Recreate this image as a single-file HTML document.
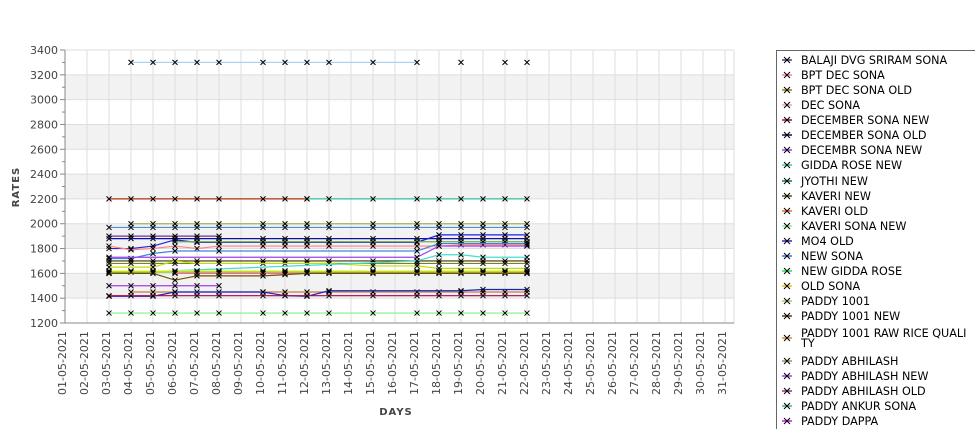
<!DOCTYPE html>
<html><head><meta charset="utf-8"><style>
body{margin:0;background:#fff;width:975px;height:429px;overflow:hidden;font-family:"DejaVu Sans","Liberation Sans",sans-serif}
</style></head><body>
<svg id="s" width="975" height="429" xmlns="http://www.w3.org/2000/svg" font-family="DejaVu Sans, Liberation Sans, sans-serif"></svg>
<script>
var s=document.getElementById('s'),h='';
var L=65,R=734,T=50,B=323;
function X(d){return L+(d-1)*22;}
function Y(v){return B-(v-1200)*(B-T)/2200;}
for(var v=3000;v>=1400;v-=400){h+='<rect x="'+L+'" y="'+Y(v+200)+'" width="'+(R-L)+'" height="'+(Y(v)-Y(v+200))+'" fill="#f2f2f2"/>';}
for(var v=1200;v<=3400;v+=200){h+='<line x1="'+L+'" x2="'+R+'" y1="'+Y(v)+'" y2="'+Y(v)+'" stroke="#ddd"/>';
h+='<text x="58" y="'+(Y(v)+4)+'" font-size="11" fill="#444" text-anchor="end">'+v+'</text>';
h+='<line x1="'+(L-5)+'" x2="'+L+'" y1="'+Y(v)+'" y2="'+Y(v)+'" stroke="#888"/>';
if(v<3400)h+='<line x1="'+(L-3)+'" x2="'+L+'" y1="'+Y(v+100)+'" y2="'+Y(v+100)+'" stroke="#888"/>';}
for(var d=1;d<=31;d++){var x=X(d);h+='<line x1="'+x+'" x2="'+x+'" y1="'+T+'" y2="'+B+'" stroke="#ddd"/>';
var dd=(d<10?'0':'')+d+'-05-2021';
h+='<text transform="translate('+(x+1)+',395) rotate(-90)" font-size="11" fill="#444">'+dd+'</text>';}
h+='<line x1="'+R+'" x2="'+R+'" y1="'+T+'" y2="'+B+'" stroke="#ddd"/>';
h+='<line x1="'+L+'" x2="'+L+'" y1="'+T+'" y2="'+B+'" stroke="#888"/><line x1="'+L+'" x2="'+R+'" y1="'+B+'" y2="'+B+'" stroke="#888"/>';
h+='<text x="396" y="415" font-size="10" font-weight="bold" fill="#444" text-anchor="middle" letter-spacing="1">DAYS</text>';
h+='<text transform="translate(19,187) rotate(-90)" font-size="10" font-weight="bold" fill="#444" text-anchor="middle" letter-spacing="1">RATES</text>';
var D=[3,4,5,6,7,8,10,11,12,13,15,17,18,19,20,21,22];
function ser(c,pts){var p=pts.map(function(q){return X(q[0])+','+Y(q[1])}).join(' ');
h+='<polyline points="'+p+'" fill="none" stroke="'+c+'" stroke-width="1.2"/>';
pts.forEach(function(q){var x=X(q[0]),y=Y(q[1]);h+='<path d="M'+(x-2.5)+' '+(y-2.5)+'L'+(x+2.5)+' '+(y+2.5)+'M'+(x+2.5)+' '+(y-2.5)+'L'+(x-2.5)+' '+(y+2.5)+'" stroke="#000" stroke-width="1"/>';});}
function flat(c,v,a,b){ser(c,D.filter(function(d){return d>=a&&d<=b}).map(function(d){return [d,v]}));}
ser('#aad4f5',[[4,3300],[5,3300],[6,3300],[7,3300],[8,3300],[10,3300],[11,3300],[12,3300],[13,3300],[15,3300],[17,3300]]);
ser('#fff',[[19,3300]]);ser('#fff',[[21,3300],[22,3300]]);
flat('#b03010',2200,3,12);flat('#30c0a0',2200,12,22);
flat('#a0b060',2000,4,22);flat('#5090d0',1970,3,22);
flat('#7030a0',1900,3,8);flat('#1010a0',1880,3,22);
ser('#2020e0',[[3,1800],[4,1800],[5,1820],[6,1870],[7,1850],[8,1850],[10,1850],[11,1850],[12,1850],[13,1850],[15,1850],[17,1850],[18,1910],[19,1910],[20,1910],[21,1910],[22,1910]]);
flat('#70b040',1855,6,22);
ser('#ff8080',[[3,1820],[4,1790],[5,1800],[6,1820],[7,1800],[8,1820],[10,1820],[11,1820],[12,1820],[13,1820],[15,1820],[17,1820],[18,1820],[19,1830],[20,1830],[21,1830],[22,1830]]);
ser('#4080e0',[[3,1720],[4,1720],[5,1760],[6,1780],[8,1780],[17,1780],[18,1840],[22,1840]]);
ser('#a040f0',[[3,1730],[17,1730],[18,1820],[22,1820]]);
flat('#403000',1700,3,22);flat('#808020',1680,3,22);
ser('#c0e000',[[3,1650],[5,1650],[6,1700],[7,1680],[8,1680],[13,1680],[15,1660],[17,1660],[18,1640],[22,1640]]);
ser('#40e0d0',[[3,1600],[17,1700],[18,1750],[19,1750],[20,1730],[22,1730]]);
flat('#f0f040',1620,3,22);flat('#80d020',1610,3,22);flat('#ff60a0',1600,6,22);
ser('#705000',[[3,1600],[5,1600],[6,1545],[7,1580],[8,1580],[10,1580],[11,1590],[12,1600],[22,1600]]);
flat('#a040e0',1500,3,8);flat('#c08040',1450,4,22);
ser('#2020c0',[[3,1415],[5,1415],[6,1450],[10,1450],[11,1420],[12,1415],[13,1460],[19,1460],[20,1470],[22,1470]]);
flat('#b00050',1420,3,22);flat('#80f080',1280,3,22);
h+='<rect x="776.5" y="50.5" width="210" height="390" fill="#fff" stroke="#666"/>';
var items=[['BALAJI DVG SRIRAM SONA','#404090'],['BPT DEC SONA','#ff70c0'],['BPT DEC SONA OLD','#a08000'],['DEC SONA','#ffa0a0'],['DECEMBER SONA NEW','#b00050'],['DECEMBER SONA OLD','#101060'],['DECEMBR SONA NEW','#a040f0'],['GIDDA ROSE NEW','#30d0b0'],['JYOTHI NEW','#108040'],['KAVERI NEW','#406020'],['KAVERI OLD','#ff6030'],['KAVERI SONA NEW','#80f0a0'],['MO4 OLD','#4020c0'],['NEW  SONA','#3070f0'],['NEW GIDDA ROSE','#20e070'],['OLD SONA','#f0c000'],['PADDY 1001','#a0d060'],['PADDY 1001 NEW','#604000'],['PADDY 1001 RAW RICE QUALI|TY','#d09040'],['PADDY ABHILASH','#a09060'],['PADDY ABHILASH NEW','#a040f0'],['PADDY ABHILASH OLD','#a03080'],['PADDY ANKUR SONA','#30c080'],['PADDY DAPPA','#c020e0']];
var y=60;
items.forEach(function(it,i){var parts=it[0].split('|');
if(i==8)y+=1;
var two=parts.length>1;
if(two)y+=2;
var cy=two?y+5:y;
h+='<line x1="782" x2="792" y1="'+cy+'" y2="'+cy+'" stroke="'+it[1]+'" stroke-width="1.5"/><path d="M784 '+(cy-3)+'L790 '+(cy+3)+'M790 '+(cy-3)+'L784 '+(cy+3)+'" stroke="#000"/>';
parts.forEach(function(p,k){h+='<text x="801" y="'+(y+4+k*10)+'" font-size="11.2" fill="#000">'+p+'</text>';});
y+=two?28:15;});
s.innerHTML=h;
</script>
</body></html>
